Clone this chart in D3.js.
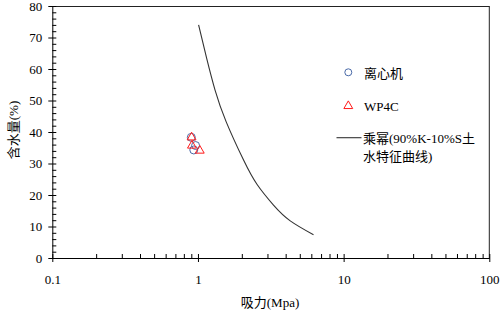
<!DOCTYPE html>
<html><head><meta charset="utf-8">
<script src="https://cdn.jsdelivr.net/npm/d3@7"></script>
<style>body{margin:0;background:#fff}svg{display:block}text{font-family:"Liberation Serif","Noto Sans CJK SC",serif;}</style>
</head><body><svg id="c" width="501" height="316"></svg>
<script>
const centrifugeX = [0.90, 0.963, 0.936];
const centrifugeY = [38.3, 35.7, 34.3];
const wp4cX = [0.904, 0.909, 1.029];
const wp4cY = [38.3, 35.7, 34.1];
const curveX = [1.01, 1.15, 1.31, 1.56, 2.06, 2.54, 3.30, 4.30, 6.21];
const curveY = [74.0, 63.2, 53.3, 43.3, 31.0, 23.4, 16.8, 11.8, 7.4];
const xTicks = [0.1, 1, 10, 100];
const yTicks = [0, 10, 20, 30, 40, 50, 60, 70, 80];
const legendLabels = ["离心机", "WP4C", "乘幂(90%K-10%S土", "水特征曲线)"];
const xTitle = "吸力(Mpa)";
const yTitle = "含水量(%)";

const svg = d3.select("#c");
const x = d3.scaleLog().domain([0.1, 100]).range([52.3, 489.3]);
const y = d3.scaleLinear().domain([0, 80]).range([258, 6]);
const L = 52.3, R = 489.3, T = 6, B = 258;

svg.append("line").attr("x1", L).attr("x2", R).attr("y1", T + 0.5).attr("y2", T + 0.5).attr("stroke", "#222");
svg.append("line").attr("x1", R).attr("x2", R).attr("y1", T).attr("y2", B).attr("stroke", "#222");

const xMinor = [];
[0.1, 1, 10].forEach(d => { for (let k = 2; k <= 9; k++) xMinor.push(d * k); });
svg.append("g").attr("transform", `translate(0,${B})`)
  .call(d3.axisBottom(x).tickValues(xMinor).tickSizeInner(-4).tickSizeOuter(0).tickFormat(""))
  .call(g => g.select(".domain").remove());
svg.append("g").attr("transform", `translate(0,${B})`)
  .call(d3.axisBottom(x).tickValues(xTicks).tickSizeInner(4).tickSizeOuter(0).tickPadding(13).tickFormat(d => String(d)))
  .call(g => g.selectAll(".tick line").attr("y1", -4))
  .call(g => g.selectAll("text").attr("font-size", 13).attr("fill", "#000"));

const yMinor = d3.range(0, 81, 2).filter(v => v % 10 !== 0);
svg.append("g").attr("transform", `translate(${L},0)`)
  .call(d3.axisLeft(y).tickValues(yMinor).tickSizeInner(-4).tickSizeOuter(0).tickFormat(""))
  .call(g => g.select(".domain").remove());
svg.append("g").attr("transform", `translate(${L},0)`)
  .call(d3.axisLeft(y).tickValues(yTicks).tickSizeInner(4).tickSizeOuter(0).tickPadding(6))
  .call(g => g.selectAll(".tick line").attr("x1", 4))
  .call(g => g.selectAll("text").attr("font-size", 13).attr("fill", "#000"));

svg.append("text").attr("x", 270).attr("y", 302).attr("text-anchor", "middle").attr("dominant-baseline", "central")
  .attr("font-size", 13).text(xTitle);
svg.append("text").attr("transform", "translate(13,130) rotate(-90)").attr("text-anchor", "middle")
  .attr("dominant-baseline", "central").attr("font-size", 13).text(yTitle);

const pts = curveX.map((v, i) => [x(v), y(curveY[i])]);
svg.append("path").attr("d", d3.line().curve(d3.curveNatural)(pts))
  .attr("fill", "none").attr("stroke", "#333").attr("stroke-width", 1.1);

const circleColor = "#4a6aa8", triColor = "#ff1a1a";
const tri = d3.symbol().type(d3.symbolTriangle).size(34);
svg.append("g").selectAll("circle").data(centrifugeX).join("circle")
  .attr("cx", d => x(d)).attr("cy", (d, i) => y(centrifugeY[i])).attr("r", 4)
  .attr("fill", "none").attr("stroke", circleColor).attr("stroke-width", 1);
svg.append("g").selectAll("path").data(wp4cX).join("path")
  .attr("d", tri).attr("transform", (d, i) => `translate(${x(d)},${y(wp4cY[i])})`)
  .attr("fill", "none").attr("stroke", triColor).attr("stroke-width", 1);

const lg = svg.append("g");
lg.append("circle").attr("cx", 348.3).attr("cy", 72.3).attr("r", 3.5).attr("fill", "none").attr("stroke", circleColor);
lg.append("text").attr("x", 364).attr("y", 73).attr("dominant-baseline", "central").attr("font-size", 13).text(legendLabels[0]);
lg.append("path").attr("d", tri).attr("transform", "translate(348.3,106)").attr("fill", "none").attr("stroke", triColor);
lg.append("text").attr("x", 364).attr("y", 106).attr("dominant-baseline", "central").attr("font-size", 13).text(legendLabels[1]);
lg.append("line").attr("x1", 336.5).attr("x2", 361.5).attr("y1", 137.7).attr("y2", 137.7).attr("stroke", "#333").attr("stroke-width", 1.1);
lg.append("text").attr("x", 363).attr("y", 138).attr("dominant-baseline", "central").attr("font-size", 13).text(legendLabels[2]);
lg.append("text").attr("x", 363).attr("y", 156).attr("dominant-baseline", "central").attr("font-size", 13).text(legendLabels[3]);
</script></body></html>
